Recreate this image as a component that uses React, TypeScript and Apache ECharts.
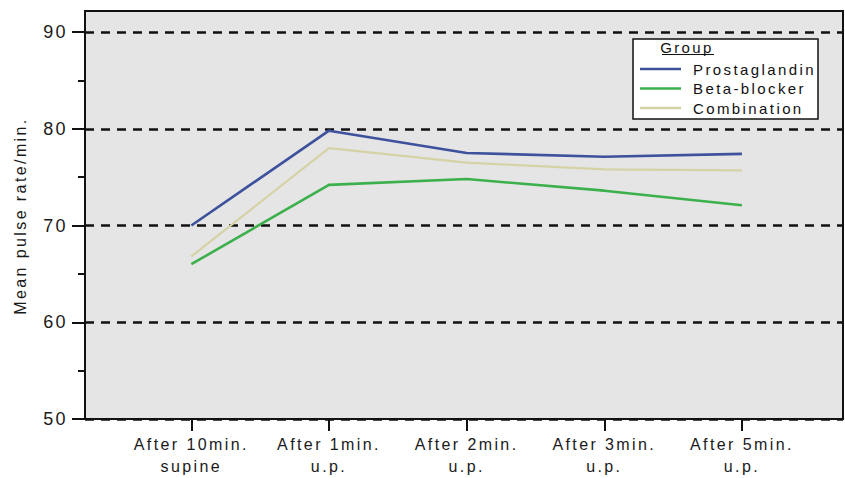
import React, { useEffect, useRef } from "react";
import * as echarts from "echarts";

const categories = [
  "After 10min.\nsupine",
  "After 1min.\nu.p.",
  "After 2min.\nu.p.",
  "After 3min.\nu.p.",
  "After 5min.\nu.p.",
];
const seriesNames = ["Prostaglandin", "Beta-blocker", "Combination"];
const prostaglandin = [70.0, 79.8, 77.5, 77.1, 77.4];
const betaBlocker = [66.0, 74.2, 74.8, 73.6, 72.1];
const combination = [66.8, 78.0, 76.5, 75.8, 75.7];
const yMin = 50;
const yMax = 90;
const yStep = 10;
const yTitle = "Mean pulse rate/min.";
const legendTitle = "Group";

const colors = ["#3d519c", "#3bb04c", "#d5d2a6"];

export default function App() {
  const ref = useRef<HTMLDivElement>(null);
  useEffect(() => {
    if (!ref.current) return;
    const chart = echarts.init(ref.current, null, { renderer: "svg" });
    const font = "'Liberation Sans', Arial, sans-serif";
    chart.setOption({
      animation: false,
      textStyle: { fontFamily: font },
      grid: [
        {
          left: 85, right: 2, top: 11, bottom: 59, show: true,
          backgroundColor: "#e5e5e5", borderColor: "#111", borderWidth: 2,
        },
        { left: 85, right: 2, top: 32, bottom: 59 },
        { left: 122.5, right: 34.25, top: 32, bottom: 59 },
      ],
      xAxis: [
        { type: "value", gridIndex: 0, show: false },
        { type: "value", gridIndex: 1, show: false },
        {
          type: "category", gridIndex: 2, data: categories, boundaryGap: true,
          axisLine: { show: false },
          axisTick: { show: true, alignWithLabel: true, length: 12, lineStyle: { color: "#111", width: 2 } },
          axisLabel: { fontSize: 16, lineHeight: 22, color: "#1a1a1a", margin: 14, fontFamily: font, interval: 0 },
          splitLine: { show: false },
        },
      ],
      yAxis: [
        { type: "value", gridIndex: 0, show: false },
        {
          type: "value", gridIndex: 1, min: yMin, max: yMax, interval: yStep,
          axisLine: { show: false },
          axisTick: { show: true, length: 13, lineStyle: { color: "#111", width: 2 } },
          minorTick: { show: true, splitNumber: 2, length: 7, lineStyle: { color: "#111", width: 2 } },
          axisLabel: { fontSize: 18, color: "#1a1a1a", margin: 17, fontFamily: font },
          splitLine: { show: true, lineStyle: { color: "#111", width: 2.5, type: [9, 7] } },
        },
        { type: "value", gridIndex: 2, min: yMin, max: yMax, show: false },
      ],
      legend: {
        orient: "vertical",
        left: 640,
        top: 61,
        z: 60,
        padding: 0,
        itemGap: 3.5,
        itemWidth: 41,
        itemHeight: 2.5,
        icon: "rect",
        selectedMode: false,
        data: seriesNames,
        textStyle: { fontSize: 15, lineHeight: 16, color: "#111", fontFamily: font, padding: [0, 0, 0, 7] },
      },
      graphic: [
        {
          type: "rect", z: 50, shape: { x: 633, y: 39, width: 185, height: 80 },
          style: { fill: "#fff", stroke: "#111", lineWidth: 1.5 },
        },
        {
          type: "text", z: 51, x: 687, y: 47,
          style: { text: legendTitle, fill: "#111", align: "center", verticalAlign: "middle", font: `15px ${font}` },
        },
        {
          type: "line", z: 51, shape: { x1: 662, y1: 54.5, x2: 714, y2: 54.5 },
          style: { stroke: "#111", lineWidth: 1.2 },
        },
        {
          type: "text", x: 20, y: 216, rotation: Math.PI / 2,
          style: { text: yTitle, fill: "#1a1a1a", align: "center", verticalAlign: "middle", font: `16px ${font}` },
        },
      ],
      series: [
        { name: seriesNames[0], data: prostaglandin, color: colors[0] },
        { name: seriesNames[1], data: betaBlocker, color: colors[1] },
        { name: seriesNames[2], data: combination, color: colors[2] },
      ].map((s, i) => ({
        type: "line",
        name: s.name,
        data: s.data,
        xAxisIndex: 2,
        yAxisIndex: 2,
        showSymbol: false,
        symbol: "none",
        z: 10 - i,
        itemStyle: { color: s.color },
        lineStyle: { color: s.color, width: i === 2 ? 2.2 : 2.6 },
      })),
    });
    return () => chart.dispose();
  }, []);
  return (
    <>
      <style>{"#chart text { letter-spacing: 2.4px; }"}</style>
      <div
        id="chart"
        ref={ref}
        style={{ position: "fixed", left: 0, top: 0, width: 845, height: 478, background: "#fff" }}
      />
    </>
  );
}
